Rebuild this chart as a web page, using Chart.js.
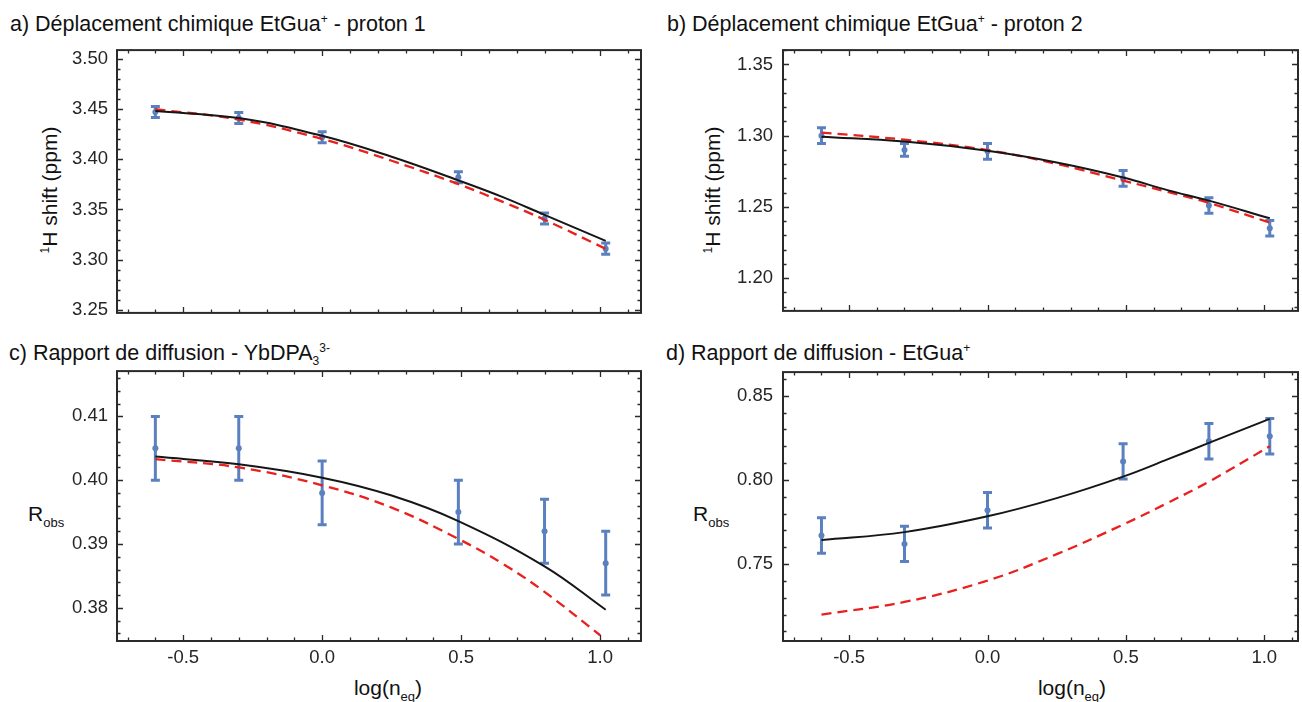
<!DOCTYPE html>
<html><head><meta charset="utf-8">
<script src="https://cdn.jsdelivr.net/npm/chart.js@4/dist/chart.umd.min.js"></script>
<style>
html,body{margin:0;padding:0;background:#fff}
body{width:1302px;height:702px;position:relative;overflow:hidden;font-family:"Liberation Sans",Arial,sans-serif;color:#111}
.t{position:absolute;font-size:21.5px;line-height:1;white-space:nowrap}
.t sup{font-size:12px;vertical-align:8px;line-height:0}
.t sub{font-size:12px;vertical-align:-5px;line-height:0}
.ax{position:absolute;font-size:21px;line-height:1;white-space:nowrap;color:#111}
.ax sub{font-size:13px;vertical-align:-6px;line-height:0}
.ax sup{font-size:12px;vertical-align:8px;line-height:0}
.rot{transform:translate(-50%,-50%) rotate(-90deg)}
.cx{transform:translateX(-50%)}
canvas{position:absolute}
</style></head><body>

<div class="t" style="left:10px;top:14px">a) Déplacement chimique EtGua<sup>+</sup> - proton 1</div>
<div class="t" style="left:667px;top:14px">b) Déplacement chimique EtGua<sup>+</sup> - proton 2</div>
<div class="t" style="left:9px;top:343px">c) Rapport de diffusion - YbDPA<sub>3</sub><sup>3-</sup></div>
<div class="t" style="left:666px;top:343px">d) Rapport de diffusion - EtGua<sup>+</sup></div>

<div class="ax rot" style="left:49px;top:190px"><sup>1</sup>H shift (ppm)</div>
<div class="ax rot" style="left:712px;top:190px"><sup>1</sup>H shift (ppm)</div>
<div class="ax" style="left:28px;top:503px">R<sub>obs</sub></div>
<div class="ax" style="left:693px;top:503px">R<sub>obs</sub></div>
<div class="ax cx" style="left:388px;top:677px">log(n<sub>eq</sub>)</div>
<div class="ax cx" style="left:1072px;top:677px">log(n<sub>eq</sub>)</div>

<canvas id="ca" width="651" height="303" style="left:0px;top:30px"></canvas>
<canvas id="cb" width="639" height="303" style="left:663px;top:29px"></canvas>
<canvas id="cc" width="651" height="342" style="left:0px;top:351px"></canvas>
<canvas id="cd" width="639" height="342" style="left:663px;top:351px"></canvas>

<script>
// ---- data ----
const xObs = [-0.6, -0.3, 0.0, 0.49, 0.8, 1.02];
const xFit = [-0.6, -0.3, 0.0, 0.25, 0.49, 0.65, 0.8, 1.02];
const xFitC = [-0.6, -0.3, 0.0, 0.25, 0.49, 0.8, 1.02];
const xDashC = [-0.6, -0.3, 0.0, 0.25, 0.49, 0.65, 0.8, 1.0];

const obsA = [3.447, 3.441, 3.422, 3.382, 3.341, 3.311];
const errA = [0.0055, 0.0055, 0.0055, 0.0055, 0.0055, 0.0055];
const fitA = [3.448, 3.441, 3.4234, 3.4025, 3.379, 3.3623, 3.3446, 3.3188];
const dashA = [3.4498, 3.4395, 3.4202, 3.3985, 3.3752, 3.3575, 3.3398, 3.3108];

const obsB = [1.300, 1.290, 1.289, 1.270, 1.251, 1.235];
const errB = [0.0055, 0.0045, 0.0055, 0.0055, 0.0055, 0.0055];
const fitB = [1.2993, 1.2959, 1.2894, 1.2812, 1.2707, 1.2618, 1.2544, 1.2420];
const dashB = [1.3022, 1.2972, 1.2899, 1.2802, 1.2685, 1.2606, 1.2528, 1.2390];

const obsC = [0.405, 0.405, 0.398, 0.395, 0.392, 0.387];
const errC = [0.005, 0.005, 0.005, 0.005, 0.005, 0.005];
const fitC = [0.4037, 0.4025, 0.4004, 0.3976, 0.3936, 0.3865, 0.3797];
const dashC = [0.4033, 0.4020, 0.3992, 0.3957, 0.3908, 0.3869, 0.3825, 0.3757];

const obsD = [0.767, 0.762, 0.782, 0.811, 0.823, 0.826];
const errD = [0.0105, 0.0105, 0.0105, 0.0105, 0.0105, 0.0105];
const fitD = [0.7643, 0.7690, 0.7784, 0.7892, 0.8020, 0.8122, 0.8220, 0.8363];
const dashD = [0.7200, 0.7275, 0.7402, 0.7559, 0.7735, 0.7863, 0.7990, 0.8200];

const xTickValues = [-0.5, 0.0, 0.5, 1.0];
const xTickLabels = ['-0.5', '0.0', '0.5', '1.0'];
const yTicksA = [3.25, 3.30, 3.35, 3.40, 3.45, 3.50];
const yTicksB = [1.20, 1.25, 1.30, 1.35];
const yTicksC = [0.38, 0.39, 0.40, 0.41];
const yTicksD = [0.75, 0.80, 0.85];

// ---- drawing ----
const BLUE = '#5b80c0', RED = '#e8201e', BLACK = '#161616', AXIS = '#2a2a2a';
const toXY = (xs, ys) => xs.map((x, i) => ({x: x, y: ys[i]}));

const framePlugin = {
  id: 'frame',
  beforeDatasetsDraw(chart) {
    const ctx = chart.ctx, xs = chart.scales.x, ys = chart.scales.y;
    chart.data.datasets.forEach(ds => {
      if (!ds.err) return;
      ctx.save();
      ctx.strokeStyle = ds.borderColor;
      ctx.lineWidth = 3;
      ctx.lineCap = 'butt';
      ds.data.forEach((p, i) => {
        const px = xs.getPixelForValue(p.x);
        const y1 = ys.getPixelForValue(p.y - ds.err[i]);
        const y2 = ys.getPixelForValue(p.y + ds.err[i]);
        ctx.beginPath();
        ctx.moveTo(px, y1); ctx.lineTo(px, y2);
        ctx.moveTo(px - 4.5, y1); ctx.lineTo(px + 4.5, y1);
        ctx.moveTo(px - 4.5, y2); ctx.lineTo(px + 4.5, y2);
        ctx.stroke();
      });
      ctx.restore();
    });
  },
  afterDraw(chart, args, o) {
    const ctx = chart.ctx, a = chart.chartArea, xs = chart.scales.x, ys = chart.scales.y;
    ctx.save();
    ctx.strokeStyle = AXIS;
    ctx.lineWidth = 1.3;
    const isMaj = (v, list) => list.some(m => Math.abs(m - v) < 1e-7);
    ctx.beginPath();
    const xStart = Math.ceil(xs.min / o.xStep - 1e-9);
    for (let k = xStart; k * o.xStep <= xs.max + 1e-9; k++) {
      const v = k * o.xStep;
      const px = Math.round(xs.getPixelForValue(v)) + 0.5;
      const len = isMaj(v, o.xMajor) ? 6 : 3.5;
      ctx.moveTo(px, a.bottom); ctx.lineTo(px, a.bottom - len);
      ctx.moveTo(px, a.top); ctx.lineTo(px, a.top + len);
    }
    const yStart = Math.ceil(ys.min / o.yStep - 1e-9);
    for (let k = yStart; k * o.yStep <= ys.max + 1e-9; k++) {
      const v = k * o.yStep;
      const py = Math.round(ys.getPixelForValue(v)) + 0.5;
      const len = isMaj(v, o.yMajor) ? 6 : 3.5;
      ctx.moveTo(a.left, py); ctx.lineTo(a.left + len, py);
      ctx.moveTo(a.right, py); ctx.lineTo(a.right - len, py);
    }
    ctx.stroke();
    ctx.lineWidth = 2;
    ctx.strokeRect(a.left, a.top, a.right - a.left, a.bottom - a.top);
    ctx.restore();
  }
};

function panel(id, c) {
  return new Chart(document.getElementById(id), {
    type: 'scatter',
    data: {datasets: [
      {type: 'line', data: toXY(c.xFit, c.fit), borderColor: BLACK, borderWidth: 2,
       pointRadius: 0, tension: 0.4, fill: false},
      {type: 'line', data: toXY(c.xDash, c.dash), borderColor: RED, borderWidth: 2.3,
       borderDash: [10, 6], pointRadius: 0, tension: 0.4, fill: false},
      {type: 'scatter', data: toXY(xObs, c.obs), err: c.err, backgroundColor: BLUE,
       borderColor: BLUE, pointRadius: 3, borderWidth: 0}
    ]},
    options: {
      responsive: false, animation: false, events: [],
      layout: {padding: {left: 0, top: 20, right: c.padR, bottom: 12}},
      plugins: {legend: {display: false}, tooltip: {enabled: false},
        frame: {xStep: 0.1, xMajor: xTickValues, yStep: c.yStep, yMajor: c.yTicks}},
      scales: {
        x: {type: 'linear', min: c.xmin, max: c.xmax,
          grid: {display: false, drawTicks: false}, border: {display: false},
          afterBuildTicks: s => { s.ticks = xTickValues.map(v => ({value: v})); },
          ticks: {display: c.showX, padding: 6, color: '#262626',
            font: {family: '"Liberation Sans", Arial, sans-serif', size: 18.5},
            callback: (v, i) => xTickLabels[i]},
          afterFit: s => { s.height = c.showX ? 40 : 0; }},
        y: {type: 'linear', min: c.ymin, max: c.ymax,
          grid: {display: false, drawTicks: false}, border: {display: false},
          afterBuildTicks: s => { s.ticks = c.yTicks.map(v => ({value: v})); },
          ticks: {padding: c.yPad, color: '#262626',
            font: {family: '"Liberation Sans", Arial, sans-serif', size: 18.5},
            callback: v => v.toFixed(2)},
          afterFit: s => { s.width = c.yw; }}
      }
    },
    plugins: [framePlugin]
  });
}

panel('ca', {xFit: xFit, fit: fitA, xDash: xFit, dash: dashA, obs: obsA, err: errA,
  xmin: -0.738, xmax: 1.147, ymin: 3.247, ymax: 3.5087, yTicks: yTicksA, yStep: 0.01,
  showX: false, yw: 117, padR: 10, yPad: 9});
panel('cb', {xFit: xFit, fit: fitB, xDash: xFit, dash: dashB, obs: obsB, err: errB,
  xmin: -0.739, xmax: 1.122, ymin: 1.177, ymax: 1.3601, yTicks: yTicksB, yStep: 0.01,
  showX: false, yw: 120, padR: 2, yPad: 10});
panel('cc', {xFit: xFitC, fit: fitC, xDash: xDashC, dash: dashC, obs: obsC, err: errC,
  xmin: -0.738, xmax: 1.147, ymin: 0.3748, ymax: 0.4171, yTicks: yTicksC, yStep: 0.002,
  showX: true, yw: 117, padR: 10, yPad: 9});
panel('cd', {xFit: xFit, fit: fitD, xDash: xFit, dash: dashD, obs: obsD, err: errD,
  xmin: -0.739, xmax: 1.122, ymin: 0.7043, ymax: 0.8641, yTicks: yTicksD, yStep: 0.01,
  showX: true, yw: 120, padR: 2, yPad: 10});
</script>
</body></html>
